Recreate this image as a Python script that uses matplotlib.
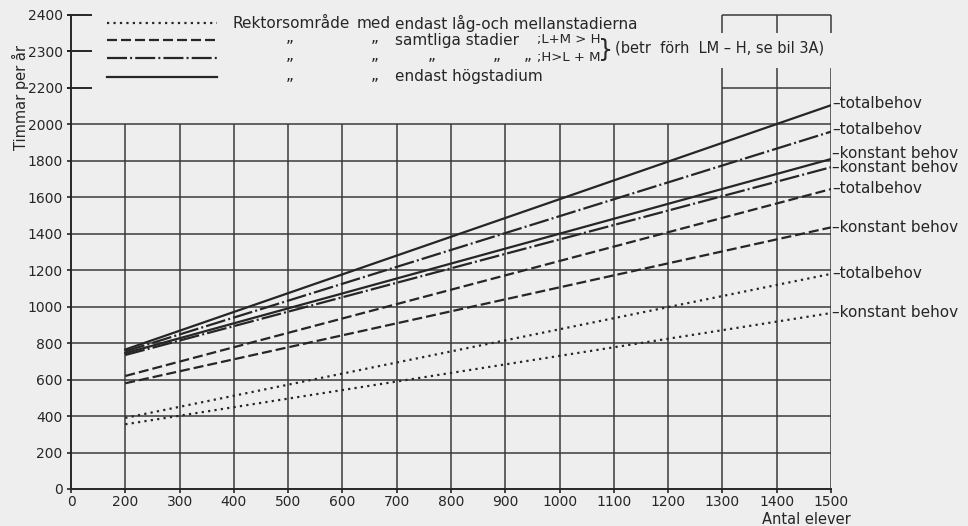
import numpy as np
import matplotlib.pyplot as plt

# antal elever: alla linjer går från 200 till 1500 elever
elever = [200, 1500]

# timmar per år vid 200 resp. 1500 elever
lm_konstant = [355, 965]
lm_total = [390, 1180]
samt_lmh_konstant = [580, 1435]
samt_lmh_total = [620, 1645]
samt_hlm_konstant = [735, 1765]
samt_hlm_total = [755, 1960]
hog_konstant = [745, 1810]
hog_total = [765, 2105]

x_ticks = [0, 200, 300, 400, 500, 600, 700, 800, 900, 1000, 1100, 1200, 1300, 1400, 1500]
y_ticks = [0, 200, 400, 600, 800, 1000, 1200, 1400, 1600, 1800, 2000, 2200, 2300, 2400]

INK = "#262626"
GRID = "#3a3a3a"
BG = "#eeeeee"

dotted = (0, (1.0, 1.9))
dashed = (0, (4.5, 1.8))
dashdot = (0, (9.0, 1.4, 0.9, 1.4))
solid = "-"

# (serie, linjestil, etikett, etikettens y-läge)
series = [
    (hog_total, solid, "totalbehov", 2115),
    (samt_hlm_total, dashdot, "totalbehov", 1972),
    (hog_konstant, solid, "konstant behov", 1840),
    (samt_hlm_konstant, dashdot, "konstant behov", 1764),
    (samt_lmh_total, dashed, "totalbehov", 1648),
    (samt_lmh_konstant, dashed, "konstant behov", 1434),
    (lm_total, dotted, "totalbehov", 1181),
    (lm_konstant, dotted, "konstant behov", 967),
]


# axeln är bruten: 0-200 elever hoptryckt, över 2200 timmar utdragen
def x_fwd(x):
    x = np.asarray(x, float)
    return np.where(x < 200, x / 2, x - 100)


def x_inv(u):
    u = np.asarray(u, float)
    return np.where(u < 100, u * 2, u + 100)


def y_fwd(y):
    y = np.asarray(y, float)
    return np.where(y <= 2200, y, 2200 + 2 * (y - 2200))


def y_inv(v):
    v = np.asarray(v, float)
    return np.where(v <= 2200, v, 2200 + (v - 2200) / 2)


fig = plt.figure(figsize=(9.68, 5.26), dpi=100, facecolor=BG)
ax = fig.add_axes([71 / 968, 37 / 526, 760 / 968, 474 / 526])
ax.set_facecolor(BG)
ax.set_xscale("function", functions=(x_fwd, x_inv))
ax.set_yscale("function", functions=(y_fwd, y_inv))
ax.set_xlim(0, 1500)
ax.set_ylim(0, 2400)

# rutnät
ax.vlines(x_ticks[1:], 0, 2000, color=GRID, lw=1.1, zorder=1)
ax.hlines(y_ticks[1:11], 0, 1500, color=GRID, lw=1.1, zorder=1)
ax.vlines([1300, 1400, 1500], 2000, 2256, color=GRID, lw=1.1)
ax.vlines([1300, 1400, 1500], 2352, 2400, color=GRID, lw=1.1, clip_on=False)
ax.hlines([2200, 2400], 1300, 1500, color=GRID, lw=1.1, clip_on=False)

for vals, ls, lab, ly in series:
    ax.plot(elever, vals, color=INK, lw=1.6, linestyle=ls, zorder=3)
    ax.annotate("–" + lab, xy=(1500, ly), xytext=(1, 0), textcoords="offset points",
                va="center", ha="left", fontsize=11, color=INK, annotation_clip=False)

for s in ["top", "right"]:
    ax.spines[s].set_visible(False)
for s in ["left", "bottom"]:
    ax.spines[s].set_color(INK)
    ax.spines[s].set_linewidth(1.4)

ax.set_xticks(x_ticks)
ax.set_xticklabels([str(t) for t in x_ticks])
ax.set_yticks(y_ticks)
ax.set_yticklabels([str(t) for t in y_ticks])
ax.tick_params(direction="out", length=3, width=1.2, color=INK, labelcolor=INK,
               labelsize=10, pad=3)
ax.tick_params(axis="x", pad=1.5)
ax.minorticks_off()

# långa streck vid 2200-2400
ytr = ax.get_yaxis_transform()
for t in [2200, 2300, 2400]:
    ax.plot([-0.004, 0.026], [t, t], color=INK, lw=1.4, transform=ytr, clip_on=False)


def fx(px):
    return (px - 71) / 760


def fy(py):
    return (489 - py) / 474


tr = ax.transAxes
kw = dict(transform=tr, fontsize=11, color=INK, va="center", clip_on=False)
rows = [23, 40, 58, 77]
for py, ls in zip(rows, [dotted, dashed, dashdot, solid]):
    ax.plot([fx(107), fx(217)], [fy(py), fy(py)], color=INK, lw=1.6, linestyle=ls,
            transform=tr, clip_on=False)

ax.text(fx(232), fy(23), "Rektorsområde", **kw)
ax.text(fx(357), fy(23), "med", **kw)
ax.text(fx(395), fy(23), "endast låg-och mellanstadierna", **kw)

for py in rows[1:]:
    for px in [290, 375]:
        ax.text(fx(px), fy(py - 2), "„", ha="center", **kw)
for px in [432, 497, 528]:
    ax.text(fx(px), fy(56), "„", ha="center", **kw)

ax.text(fx(395), fy(40), "samtliga stadier", **kw)
ax.text(fx(537), fy(40), ";L+M > H", **dict(kw, fontsize=9.5))
ax.text(fx(537), fy(58), ";H>L + M", **dict(kw, fontsize=9.5))
ax.text(fx(395), fy(77), "endast högstadium", **kw)
ax.text(fx(606), fy(50), "}", ha="center", **dict(kw, fontsize=17))
ax.text(fx(615), fy(48), "(betr  förh  LM – H, se bil 3A)", **dict(kw, fontsize=10.5))

fig.text(20 / 968, 1 - 98 / 526, "Timmar per år", rotation=90, ha="center", va="center",
         fontsize=10.5, color=INK)
fig.text(806 / 968, 1 - 519 / 526, "Antal elever", ha="center", va="center",
         fontsize=10.5, color=INK)

fig.savefig("out.png", dpi=100, facecolor=BG)
